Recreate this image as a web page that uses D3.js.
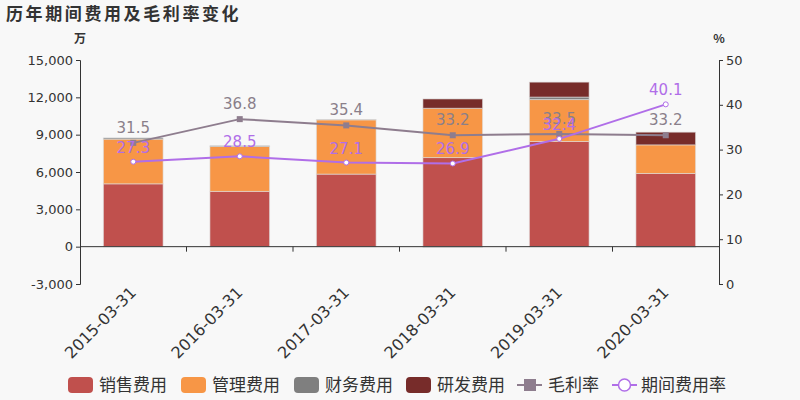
<!DOCTYPE html>
<html>
<head>
<meta charset="utf-8">
<script src="https://cdn.jsdelivr.net/npm/d3@7"></script>
<style>
  html, body { margin: 0; padding: 0; background: #f8f8f8; }
  svg { display: block; font-family: "Noto Sans CJK SC", "DejaVu Sans", sans-serif; }
</style>
</head>
<body>
<div class="container"></div>
<script>
// data (万元 / %)
const dates = ["2015-03-31", "2016-03-31", "2017-03-31", "2018-03-31", "2019-03-31", "2020-03-31"];
const sales = [5050, 4440, 5830, 7160, 8450, 5880];
const admin = [3590, 3610, 4360, 3960, 3370, 2300];
const finance = [100, 60, 20, -40, 200, -40];
const rnd = [0, 0, 0, 750, 1200, 1020];
const grossMargin = [31.5, 36.8, 35.4, 33.2, 33.5, 33.2];
const expenseRate = [27.3, 28.5, 27.1, 26.9, 32.4, 40.1];
const leftTicks = [-3000, 0, 3000, 6000, 9000, 12000, 15000];
const rightTicks = [0, 10, 20, 30, 40, 50];

const seriesNames = ["销售费用", "管理费用", "财务费用", "研发费用"];
const seriesColors = ["#c0504d", "#f79646", "#7f7f7f", "#772c2a"];
const grossColor = "#8e7d8e";
const rateColor = "#b06ee8";

const width = 800, height = 400;
const margin = { top: 60, right: 81, bottom: 116, left: 80 };

const svg = d3.select(".container")
  .append("svg")
  .attr("width", width)
  .attr("height", height);

svg.append("rect").attr("width", width).attr("height", height).attr("fill", "#f8f8f8");

// title
svg.append("text")
  .attr("x", 6).attr("y", 20)
  .attr("font-size", 17).attr("font-weight", "bold")
  .attr("letter-spacing", 2.6)
  .attr("fill", "#333")
  .text("历年期间费用及毛利率变化");

// scales
const xScale = d3.scaleBand()
  .domain(dates)
  .range([margin.left, width - margin.right])
  .paddingInner(0.44)
  .paddingOuter(0.22);

const band = d3.scaleBand().domain(dates).range([margin.left, width - margin.right]);

const yLeft = d3.scaleLinear().domain([-3000, 15000]).range([height - margin.bottom, margin.top]);
const yRight = d3.scaleLinear().domain([0, 50]).range([height - margin.bottom, margin.top]);

// stacked bars, negative values go below zero
const table = dates.map((d, i) => ({ date: d, s0: sales[i], s1: admin[i], s2: finance[i], s3: rnd[i] }));
const stack = d3.stack()
  .keys(["s0", "s1", "s2", "s3"])
  .offset(d3.stackOffsetDiverging);
const layers = stack(table);

svg.append("g")
  .selectAll("g")
  .data(layers)
  .join("g")
  .attr("fill", (d, i) => seriesColors[i])
  .selectAll("rect")
  .data(d => d)
  .join("rect")
  .attr("x", d => xScale(d.data.date))
  .attr("width", xScale.bandwidth())
  .attr("y", d => yLeft(Math.max(d[0], d[1])))
  .attr("height", d => Math.abs(yLeft(d[0]) - yLeft(d[1])))
  .attr("stroke", "#ddd")
  .attr("stroke-opacity", 0.6)
  .attr("stroke-width", 1);

// axes
const fmt = d3.format(",");
const leftAxis = d3.axisLeft(yLeft)
  .tickValues(leftTicks)
  .tickSize(4)
  .tickFormat(d => fmt(d).replace("−", "-"));

const gl = svg.append("g")
  .attr("transform", `translate(${margin.left},0)`)
  .call(leftAxis);

const rightAxis = d3.axisRight(yRight).tickValues(rightTicks).tickSize(4);
const gr = svg.append("g")
  .attr("transform", `translate(${width - margin.right},0)`)
  .call(rightAxis);

// x axis sits on the zero line of the left scale
const xAxis = d3.axisBottom(band).tickSize(5).tickFormat("");
const gx = svg.append("g")
  .attr("transform", `translate(0,${yLeft(0)})`)
  .call(xAxis);
// ticks at band boundaries, not at band centres
gx.selectAll(".tick").remove();
gx.selectAll(".bnd")
  .data(dates.slice(1))
  .join("line")
  .attr("x1", d => band(d)).attr("x2", d => band(d))
  .attr("y1", 0).attr("y2", 5)
  .attr("stroke", "#333");

[gl, gr, gx].forEach(g => {
  g.select(".domain").attr("stroke", "#333");
  g.selectAll(".tick line").attr("stroke", "#333");
  g.selectAll(".tick text").attr("fill", "#333").attr("font-size", 13).attr("font-family", "DejaVu Sans");
});
gx.select(".domain").attr("d", `M${margin.left},0H${width - margin.right}`);

// rotated category labels
svg.append("g")
  .selectAll("text")
  .data(dates)
  .join("text")
  .attr("transform", d => `translate(${band(d) + band.bandwidth() / 2 + 4},${yLeft(0) + 47}) rotate(-45)`)
  .attr("text-anchor", "end")
  .attr("font-size", 16)
  .attr("font-family", "DejaVu Sans")
  .attr("fill", "#333")
  .text(d => d);

// unit labels
svg.append("text").attr("x", margin.left).attr("y", 43).attr("text-anchor", "middle")
  .attr("font-size", 12).attr("font-weight", "bold").attr("fill", "#333").text("万");
svg.append("text").attr("x", width - margin.right).attr("y", 43).attr("text-anchor", "middle")
  .attr("font-size", 12).attr("font-weight", "bold").attr("fill", "#333").text("%");

// lines
const cx = d => xScale(d) + xScale.bandwidth() / 2;
const line = vals => d3.line()
  .x((d, i) => cx(dates[i]))
  .y(d => yRight(d))(vals);

svg.append("path")
  .attr("d", line(grossMargin))
  .attr("fill", "none")
  .attr("stroke", grossColor)
  .attr("stroke-width", 2);

svg.append("g")
  .selectAll("rect")
  .data(grossMargin)
  .join("rect")
  .attr("x", (d, i) => cx(dates[i]) - 3)
  .attr("y", d => yRight(d) - 3)
  .attr("width", 6).attr("height", 6)
  .attr("fill", grossColor);

svg.append("path")
  .attr("d", line(expenseRate))
  .attr("fill", "none")
  .attr("stroke", rateColor)
  .attr("stroke-width", 2);

svg.append("g")
  .selectAll("circle")
  .data(expenseRate)
  .join("circle")
  .attr("cx", (d, i) => cx(dates[i]))
  .attr("cy", d => yRight(d))
  .attr("r", 2.5)
  .attr("fill", "#fff")
  .attr("stroke", rateColor)
  .attr("stroke-width", 1);

// value labels
svg.append("g")
  .selectAll("text")
  .data(grossMargin)
  .join("text")
  .attr("x", (d, i) => cx(dates[i]))
  .attr("y", d => yRight(d) - 10)
  .attr("text-anchor", "middle")
  .attr("font-size", 15)
  .attr("font-family", "DejaVu Sans")
  .attr("fill", "#8a7f8a")
  .text(d => d.toFixed(1));

svg.append("g")
  .selectAll("text")
  .data(expenseRate)
  .join("text")
  .attr("x", (d, i) => cx(dates[i]))
  .attr("y", d => yRight(d) - 9)
  .attr("text-anchor", "middle")
  .attr("font-size", 15)
  .attr("font-family", "DejaVu Sans")
  .attr("fill", rateColor)
  .text(d => d.toFixed(1));

// legend
const legend = svg.append("g").attr("transform", "translate(0,385)");
const legendX = [68, 181, 294, 406];
seriesNames.forEach((name, i) => {
  legend.append("rect")
    .attr("x", legendX[i]).attr("y", -8)
    .attr("width", 25).attr("height", 16).attr("rx", 4)
    .attr("fill", seriesColors[i]);
  legend.append("text")
    .attr("x", legendX[i] + 31).attr("y", 6)
    .attr("font-size", 17).attr("fill", "#333")
    .text(name);
});

legend.append("line").attr("x1", 517).attr("x2", 542).attr("y1", 0).attr("y2", 0)
  .attr("stroke", grossColor).attr("stroke-width", 2);
legend.append("rect").attr("x", 524).attr("y", -6).attr("width", 12).attr("height", 12)
  .attr("fill", grossColor);
legend.append("text").attr("x", 548).attr("y", 6).attr("font-size", 17).attr("fill", "#333").text("毛利率");

legend.append("line").attr("x1", 612).attr("x2", 637).attr("y1", 0).attr("y2", 0)
  .attr("stroke", rateColor).attr("stroke-width", 2);
legend.append("circle").attr("cx", 624.5).attr("cy", 0).attr("r", 6)
  .attr("fill", "#fff").attr("stroke", rateColor).attr("stroke-width", 1.5);
legend.append("text").attr("x", 641).attr("y", 6).attr("font-size", 17).attr("fill", "#333").text("期间费用率");
</script>
</body>
</html>
